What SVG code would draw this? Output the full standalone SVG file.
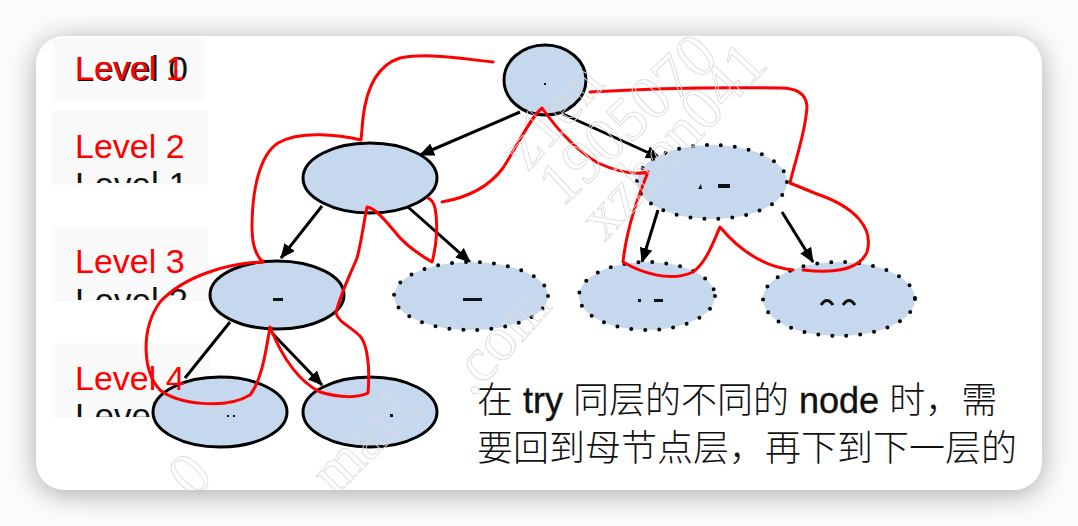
<svg xmlns="http://www.w3.org/2000/svg" width="1078" height="526" viewBox="0 0 1078 526">
  <defs>
    <filter id="shadow" x="-10%" y="-20%" width="120%" height="140%">
      <feGaussianBlur stdDeviation="14"/>
    </filter>
    <marker id="arrow" viewBox="0 0 14 12" refX="13" refY="6" markerWidth="15" markerHeight="13" markerUnits="userSpaceOnUse" orient="auto">
      <path d="M0,0 L14,6 L0,12 Z" fill="#000"/>
    </marker>
    <clipPath id="clip1"><rect x="60" y="160" width="150" height="23"/></clipPath>
    <clipPath id="clip2"><rect x="60" y="276" width="150" height="24"/></clipPath>
    <clipPath id="clip3"><rect x="60" y="392" width="150" height="25"/></clipPath>
    <clipPath id="cardclip"><rect x="36" y="36" width="1006" height="454" rx="28"/></clipPath>
    <style>
      .node { fill: #c5d8ee; stroke: #000; stroke-width: 3; }
      .dot { fill: #c5d8ee; stroke: #000; stroke-width: 4; stroke-dasharray: 0 14; stroke-linecap: round; }
      .edge { stroke: #000; stroke-width: 3; fill: none; }
      .red { stroke: #ff0000; stroke-width: 3; fill: none; stroke-linecap: round; stroke-linejoin: round; }
      .lvl { font-family: "Liberation Sans", Arial, sans-serif; font-size: 34px; }
      .lvlred { fill: #ff0000; }
      .lvlblk { fill: #111; font-size: 35px; }
      .mark { fill: #111; }
      .cjk { font-family: "Liberation Sans", "Noto Sans CJK SC", sans-serif; font-size: 36px; fill: #111; font-weight: 300; }
      .lat { font-weight: 400; stroke: #111; stroke-width: 0.4; }
      .wm { font-family: "Liberation Serif", serif; font-size: 62px; fill: none; stroke: #dcdcdc; stroke-width: 0.9; }
    </style>
  </defs>

  <!-- background and card -->
  <rect x="0" y="0" width="1078" height="526" fill="#fbfbfb"/>
  <rect x="36" y="40" width="1006" height="454" rx="28" fill="#000" opacity="0.32" filter="url(#shadow)"/>
  <rect x="36" y="36" width="1006" height="454" rx="28" fill="#fff"/>

  <!-- faint label boxes -->
  <g id="label-boxes" fill="#fafafa">
    <rect x="53" y="38" width="152" height="62"/>
    <rect x="52" y="110" width="156" height="75"/>
    <rect x="53" y="227" width="155" height="75"/>
    <rect x="53" y="343" width="157" height="75"/>
  </g>

  <!-- old black labels (partly hidden) -->
  <g id="old-labels" class="lvl">
    <text class="lvlblk" x="75" y="81">Level 0</text>
    <text class="lvlblk" x="75" y="197" clip-path="url(#clip1)">Level 1</text>
    <text class="lvlblk" x="75" y="313" clip-path="url(#clip2)">Level 2</text>
    <text class="lvlblk" x="75" y="428" clip-path="url(#clip3)">Level 3</text>
  </g>

  <!-- connectors -->
  <g id="connectors">
    <line class="edge" x1="520" y1="112" x2="420" y2="155" marker-end="url(#arrow)"/>
    <line class="edge" x1="563" y1="114" x2="660" y2="158" marker-end="url(#arrow)"/>
    <line class="edge" x1="322" y1="206" x2="281" y2="258" marker-end="url(#arrow)"/>
    <line class="edge" x1="408" y1="207" x2="470" y2="262" marker-end="url(#arrow)"/>
    <line class="edge" x1="230" y1="322" x2="185" y2="378"/>
    <line class="edge" x1="272" y1="333" x2="322" y2="385" marker-end="url(#arrow)"/>
    <line class="edge" x1="658" y1="210" x2="642" y2="262" marker-end="url(#arrow)"/>
    <line class="edge" x1="782" y1="212" x2="813" y2="262" marker-end="url(#arrow)"/>
  </g>

  <!-- nodes -->
  <g id="node-root">
    <ellipse class="node" cx="545" cy="80" rx="41" ry="35"/>
    <rect class="mark" x="544" y="83" width="2" height="2"/>
  </g>
  <g id="node-l2-left">
    <ellipse class="node" cx="370" cy="178" rx="67" ry="35"/>
  </g>
  <g id="node-l2-right">
    <ellipse class="dot" cx="712" cy="182" rx="75" ry="37"/>
    <path class="mark" d="M698,189 L701,184 L702,189 Z"/>
    <rect class="mark" x="718" y="184" width="12" height="4"/>
  </g>
  <g id="node-l3-left">
    <ellipse class="node" cx="277" cy="295" rx="67" ry="34"/>
    <rect class="mark" x="273" y="298" width="10" height="3"/>
  </g>
  <g id="node-l3-mid">
    <ellipse class="dot" cx="471" cy="296" rx="77" ry="34"/>
    <rect class="mark" x="463" y="298" width="19" height="3"/>
  </g>
  <g id="node-l3-right1">
    <ellipse class="dot" cx="647" cy="296" rx="68" ry="34"/>
    <rect class="mark" x="638" y="299" width="3" height="3"/>
    <rect class="mark" x="654" y="299" width="9" height="3"/>
  </g>
  <g id="node-l3-right2">
    <ellipse class="dot" cx="839" cy="299" rx="76" ry="37"/>
    <path d="M821,305 Q827,296 833,305 M843,305 Q849,296 855,305" fill="none" stroke="#111" stroke-width="3"/>
  </g>
  <g id="node-l4-left">
    <ellipse class="node" cx="220" cy="412" rx="67" ry="35"/>
    <rect class="mark" x="227" y="415" width="2" height="2"/>
    <rect class="mark" x="233" y="415" width="2" height="2"/>
  </g>
  <g id="node-l4-right">
    <ellipse class="node" cx="370" cy="412" rx="67" ry="35"/>
    <rect class="mark" x="390" y="414" width="3" height="3"/>
  </g>

  <!-- red traversal path -->
  <g id="traversal">
    <path class="red" d="M493,62 C470,60 430,52 400,58 C375,66 366,92 363,118 L361,140 C340,135 300,130 278,143 C258,156 252,195 252,227 C252,245 256,256 263,262 C230,263 185,275 160,302 C140,330 143,372 160,390 C178,404 225,410 250,395 C262,380 266,350 270,327 C280,352 296,380 320,392 C340,398 358,398 368,393 C370,370 368,345 360,336 C350,326 338,322 336,313 C340,295 350,275 357,258 C362,240 364,220 367,207 C375,208 385,220 395,232 C405,245 420,255 432,262 C437,245 438,222 435,208 C434,203 432,200 428,198"/>
    <path class="red" d="M442,202 C465,198 488,188 503,168 C518,145 530,118 542,108 C552,122 572,148 598,163 C618,172 635,175 648,172 C640,192 627,225 623,262 C640,272 670,283 693,272 C707,262 714,240 720,227 C735,245 758,266 793,270"/>
    <path class="red" d="M803,270 C830,273 858,272 867,252 C874,228 855,207 817,194 L790,183 C795,160 806,132 807,106 C806,93 796,88 780,88 C720,87 640,89 590,92"/>
  </g>

  <!-- red level labels -->
  <g id="levels" class="lvl lvlred">
    <text x="75" y="80">Level 1</text>
    <text x="75" y="158">Level 2</text>
    <text x="75" y="273">Level 3</text>
    <text x="75" y="390">Level 4</text>
  </g>

  <!-- caption -->
  <g id="caption" class="cjk">
    <text x="477" y="413">在 <tspan class="lat">try</tspan> 同层的不同的 <tspan class="lat">node</tspan> 时，需</text>
    <text x="477" y="461">要回到母节点层，再下到下一层的</text>
  </g>

  <!-- watermark -->
  <g id="watermark" class="wm" clip-path="url(#cardclip)">
    <text transform="translate(528,172) rotate(-48)">z1en</text>
    <text transform="translate(562,208) rotate(-43)">1905070</text>
    <text transform="translate(605,242) rotate(-47)">xzhen041</text>
    <text transform="translate(472,398) rotate(-48)">.com</text>
    <text transform="translate(335,497) rotate(-45)">mai1</text>
    <text transform="translate(193,500) rotate(-45)">0</text>
  </g>
</svg>
